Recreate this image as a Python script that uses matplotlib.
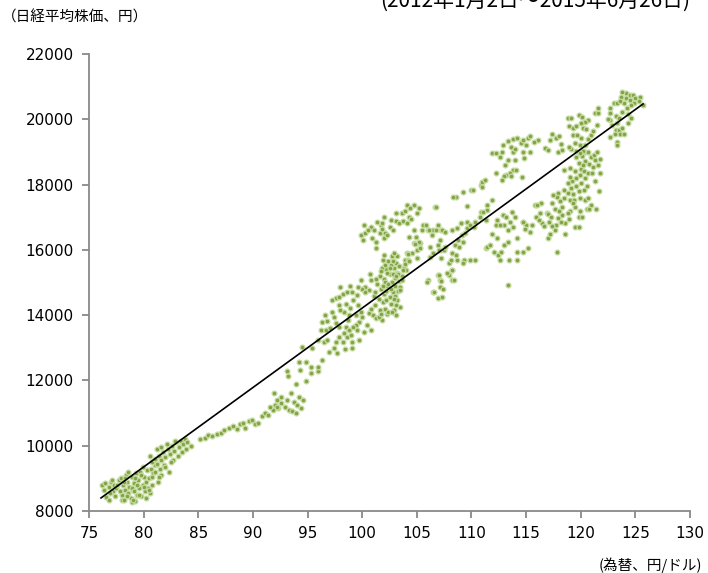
import matplotlib
matplotlib.use("Agg")
import matplotlib.pyplot as plt
import numpy as np

# 為替(円/ドル) vs 日経平均株価(円), values
grp_76_81 = [
    (76.2, 8800), (76.5, 8850), (76.6, 8430), (76.8, 8340), (76.8, 8750), (77.0, 8900),
    (77.2, 8600), (77.4, 8450), (77.5, 8700), (77.7, 8950), (77.9, 9000), (78.0, 8500),
    (78.0, 8340), (78.1, 8800), (78.2, 8350), (78.3, 8650), (78.4, 9100), (78.5, 8900),
    (78.6, 8550), (78.7, 8750), (78.8, 8400), (78.9, 9050), (78.9, 8280), (79.0, 8650),
    (79.1, 8850), (79.2, 8300), (79.3, 9150), (79.4, 8500), (79.5, 8950), (79.6, 8700),
    (79.7, 9200), (79.8, 8450), (79.9, 8800), (80.0, 9050), (80.1, 8600), (80.2, 8900),
    (80.3, 9250), (80.4, 8700), (80.5, 9000), (80.6, 8550), (80.7, 9300), (80.8, 8800),
    (77.8, 8600), (78.6, 9200), (79.2, 9000), (79.9, 9350), (80.2, 8400), (79.0, 8350),
    (78.3, 9000), (77.3, 8800), (76.9, 8550), (79.6, 8500), (80.0, 8750), (78.9, 8700),
    (79.4, 8800), (80.9, 9150), (81.0, 9400), (76.4, 8650), (77.1, 8950), (78.5, 8450),
    (79.8, 9100), (80.5, 8650), (79.1, 8600), (78.2, 8900), (80.8, 9050), (77.6, 8800),
]
grp_81_84 = [
    (80.8, 9500), (81.0, 9600), (81.2, 9450), (81.4, 9700), (81.6, 9550), (81.8, 9800),
    (82.0, 9650), (82.2, 9900), (82.4, 9750), (82.6, 10000), (82.8, 9850), (83.0, 10100),
    (83.2, 9950), (83.4, 10150), (83.6, 10050), (83.8, 10200), (84.0, 10100), (84.3, 10000),
    (81.5, 9300), (81.9, 9400), (82.3, 9200), (82.7, 9550), (83.1, 9700), (83.5, 9800),
    (83.9, 9900), (81.2, 9900), (81.6, 9950), (82.1, 10050), (82.5, 9500), (80.6, 9700),
    (81.0, 9200), (81.3, 8900), (81.6, 9100), (82.0, 9350), (81.4, 9050), (82.9, 10150),
]
grp_85_93 = [
    (85.2, 10200), (85.6, 10250), (85.9, 10330), (86.3, 10300), (86.7, 10350), (87.1, 10400),
    (87.4, 10480), (87.8, 10550), (88.2, 10600), (88.5, 10500), (88.8, 10650), (89.1, 10700),
    (89.3, 10550), (89.6, 10750), (89.9, 10800), (90.2, 10650), (90.5, 10700), (90.8, 10900),
    (91.1, 11000), (91.4, 10950), (91.8, 11100), (92.0, 11250), (92.3, 11150), (92.6, 11300),
    (92.9, 11200), (91.6, 11200), (92.2, 11400), (91.9, 11600), (92.6, 11500), (92.2, 11185),
]
grp_93_96 = [
    (93.3, 11100), (93.5, 11600), (93.6, 11050), (93.8, 11350), (94.0, 11250), (94.2, 11500),
    (94.4, 11150), (94.6, 11400), (93.9, 11900), (94.9, 11980), (94.2, 12560), (94.3, 12320),
    (94.9, 12560), (95.3, 12400), (95.3, 12220), (96.0, 12300), (96.0, 12420), (96.3, 12620),
    (94.5, 13020), (95.4, 13000), (93.1, 12300), (93.2, 12150), (93.1, 11400), (93.9, 11000),
]
grp_96_101 = [
    (96.3, 13790), (96.8, 13820), (96.2, 13540), (96.7, 13540), (97.2, 14100), (97.6, 14520),
    (97.9, 14560), (98.2, 14650), (98.6, 14700), (99.1, 14700), (99.5, 14620), (97.2, 14460),
    (97.9, 14300), (98.5, 14350), (98.9, 14220), (99.2, 14460), (98.3, 14090), (98.8, 14000),
    (99.4, 14000), (99.9, 14090), (100.0, 13940), (100.6, 14060), (100.8, 14200), (99.7, 13780),
    (99.4, 13700), (97.6, 13760), (97.9, 13640), (98.5, 13640), (98.8, 13540), (99.2, 13640),
    (99.5, 13540), (100.2, 13480), (100.8, 13540), (97.9, 13330), (98.2, 13180), (98.6, 13330),
    (99.1, 13180), (99.7, 13240), (97.6, 13180), (97.0, 12870), (97.4, 12990), (97.7, 12840),
    (99.1, 12990), (96.5, 13180), (96.8, 13240), (96.0, 13240), (100.3, 14860), (100.0, 14800),
    (100.6, 14760), (98.0, 14150), (98.7, 13850), (99.6, 14300), (97.4, 13950), (98.3, 13450),
    (99.0, 13400), (100.4, 13700), (97.1, 13600), (98.4, 12950), (96.6, 14000), (99.9, 15075),
    (100.7, 15260), (100.3, 14710), (100.8, 15070), (98.0, 14850), (98.9, 14900), (99.6, 14850),
]
grp_101_104 = [
    (101.0, 14000), (101.2, 14300), (101.3, 13900), (101.5, 14500), (101.6, 14150), (101.7, 14800),
    (101.8, 13850), (101.9, 14400), (102.0, 15100), (102.0, 14650), (102.1, 14200), (102.2, 15400),
    (102.3, 14900), (102.3, 14050), (102.4, 15650), (102.5, 14550), (102.5, 15250), (102.6, 14350),
    (102.7, 15000), (102.7, 15800), (102.8, 14700), (102.9, 15450), (102.9, 14150), (103.0, 15150),
    (103.0, 14900), (103.1, 15600), (103.2, 14450), (103.2, 15300), (103.3, 14750), (103.4, 15050),
    (103.4, 15500), (103.5, 14250), (101.4, 14950), (101.6, 15200), (101.8, 15450), (101.9, 15700),
    (102.1, 15550), (102.2, 14750), (102.4, 14100), (102.6, 15550), (102.8, 15250), (103.0, 14600),
    (103.2, 15800), (103.5, 14850), (101.1, 14600), (101.3, 15100), (101.7, 15350), (102.0, 15850),
    (102.6, 14800), (102.1, 15000), (102.9, 14500), (103.3, 15250), (101.5, 13950), (102.3, 15300),
    (102.7, 14100), (103.6, 15200), (103.1, 14000), (102.4, 14950), (101.9, 14900), (102.8, 15650),
    (103.8, 15440), (103.9, 15690), (103.6, 15075), (103.5, 14770), (104.0, 15380), (103.1, 15200),
    (101.2, 14700), (102.2, 14450), (102.5, 15450), (103.1, 14300), (101.7, 14050), (102.9, 15900),
]
grp_100_105_hi = [
    (99.9, 16450), (100.3, 16510), (100.2, 16760), (100.8, 16700), (101.1, 16600), (101.3, 16240),
    (101.3, 16050), (100.9, 16360), (101.6, 16510), (101.4, 16850), (101.7, 16760), (102.0, 17000),
    (101.8, 16640), (102.1, 16510), (102.0, 16350), (102.3, 16450), (102.5, 16700), (102.6, 16910),
    (103.1, 16880), (103.4, 16820), (103.7, 16880), (104.1, 16830), (103.1, 17130), (103.6, 17130),
    (103.9, 17190), (104.1, 17370), (104.4, 17280), (104.7, 17370), (105.2, 17280), (105.0, 17130),
    (104.3, 17000), (101.8, 16820), (100.5, 16600), (102.8, 16600), (104.5, 16950), (100.1, 16300),
]
grp_104_111 = [
    (104.7, 16610), (105.6, 16760), (106.0, 16600), (106.5, 16600), (106.9, 16760), (107.2, 16600),
    (107.1, 16300), (104.7, 16200), (105.0, 15980), (105.3, 16200), (104.6, 15900), (104.2, 15690),
    (103.9, 15560), (103.7, 15380), (104.1, 15900), (105.0, 15750), (106.2, 16090), (106.5, 15900),
    (106.2, 15780), (106.9, 16150), (107.2, 15980), (107.2, 15760), (107.5, 15980), (107.9, 15600),
    (108.2, 15900), (108.5, 16150), (108.8, 16300), (109.1, 16450), (109.4, 16520), (109.6, 16660),
    (108.7, 16660), (108.2, 16600), (109.0, 16820), (109.6, 16850), (109.9, 16760), (110.2, 16700),
    (110.3, 16850), (109.2, 16240), (108.9, 16090), (108.2, 15380), (107.9, 15230), (108.2, 15080),
    (108.7, 15690), (109.3, 15690), (109.9, 15690), (110.3, 15690), (106.9, 15230), (107.1, 15075),
    (107.1, 14860), (106.5, 14710), (106.9, 14520), (106.0, 15075), (104.3, 16390), (104.9, 16390),
    (105.2, 16240), (105.3, 16060), (104.8, 16180), (104.2, 15870), (104.3, 15660), (105.5, 16610),
    (106.1, 16610), (106.4, 16450), (106.8, 16610), (107.3, 16610), (107.6, 16540), (105.8, 16760),
    (107.6, 16090), (107.0, 16000), (106.7, 17310), (108.6, 17620), (109.2, 17780), (110.0, 17830),
    (109.6, 17340), (108.3, 17620), (110.9, 18000), (111.0, 18080), (110.9, 17160), (111.3, 16900),
    (111.3, 16060), (108.6, 15840), (109.2, 15600), (108.1, 15690), (108.2, 15380), (107.8, 15300),
    (108.4, 15090), (107.0, 15230), (107.2, 15050), (107.4, 14800), (106.6, 14700), (107.3, 14560),
    (105.9, 15010), (110.8, 17000), (111.4, 17370), (111.9, 17520), (111.4, 17220), (106.8, 17310),
]
grp_111_118 = [
    (112.3, 16910), (112.9, 17070), (113.2, 17000), (113.7, 17160), (114.0, 17000), (113.5, 16850),
    (113.0, 16760), (113.3, 16610), (113.8, 16700), (114.7, 16850), (115.0, 16760), (112.2, 16760),
    (112.6, 16760), (112.3, 16360), (111.4, 16090), (111.7, 16150), (112.1, 15930), (112.4, 15840),
    (112.7, 15930), (113.0, 16150), (113.3, 16240), (112.6, 15690), (113.4, 15690), (114.2, 16360),
    (114.2, 15930), (114.2, 15690), (114.7, 15930), (115.2, 16050), (113.3, 14920), (117.0, 16360),
    (117.8, 15930), (115.8, 17370), (116.4, 17430), (116.3, 17130), (116.9, 17130), (116.5, 16820),
    (115.5, 16760), (111.1, 17160), (111.9, 16500), (116.0, 17370), (115.9, 17000), (116.2, 16900),
    (117.0, 17110), (116.6, 16720), (117.2, 16500), (114.7, 16850), (114.9, 16650), (115.4, 16550),
]
grp_111_118_hi = [
    (111.9, 18960), (112.2, 18960), (112.6, 18840), (112.8, 19000), (112.9, 19210), (113.3, 19340),
    (113.6, 19150), (113.8, 18990), (113.3, 18750), (113.8, 19400), (114.2, 19430), (114.5, 19280),
    (114.7, 19000), (114.7, 19370), (115.2, 19430), (115.4, 19500), (115.0, 19220), (115.4, 18990),
    (114.8, 18800), (114.0, 18750), (113.8, 18440), (114.1, 18440), (113.5, 18350), (113.2, 18290),
    (113.0, 18260), (113.6, 18260), (114.6, 18230), (112.8, 18130), (112.2, 18350), (111.2, 18140),
    (111.0, 17920), (110.1, 17830), (116.7, 19120), (117.0, 19060), (117.2, 19370), (117.4, 19550),
    (117.7, 19430), (118.0, 19490), (118.2, 19250), (117.9, 19000), (118.3, 19060), (116.1, 19370),
    (115.7, 19310), (114.0, 19100), (113.1, 18600),
]
grp_117_122 = [
    (120.4, 19000), (120.7, 19000), (120.9, 18840), (121.2, 18920), (121.5, 19000), (121.8, 18770),
    (121.3, 18740), (121.6, 18590), (121.1, 18530), (120.8, 18620), (120.4, 18710), (120.1, 18890),
    (119.8, 18650), (119.6, 18840), (120.0, 18470), (120.3, 18400), (120.7, 18340), (121.0, 18340),
    (121.8, 18340), (119.0, 18500), (119.5, 18400), (119.6, 18190), (119.2, 18100), (118.8, 18050),
    (119.1, 17900), (120.0, 18040), (120.4, 18190), (120.6, 17970), (120.3, 17830), (119.8, 17800),
    (119.3, 17700), (118.8, 17750), (118.5, 17830), (118.5, 17580), (119.0, 17520), (119.4, 17520),
    (119.9, 17580), (120.4, 17520), (120.7, 17580), (120.9, 17370), (120.6, 17250), (119.9, 17190),
    (119.5, 17310), (119.0, 17190), (118.3, 17310), (117.9, 17740), (117.8, 17620), (117.5, 17680),
    (117.4, 17430), (117.6, 17250), (118.0, 17180), (118.3, 17060), (118.8, 17120), (118.9, 16960),
    (118.6, 16820), (118.2, 16840), (117.9, 16970), (117.7, 16760), (117.3, 17000), (117.4, 16720),
    (117.1, 16840), (117.6, 16610), (118.6, 16500), (119.5, 16700), (119.8, 16700), (119.8, 17000),
    (120.8, 17250), (121.4, 17240), (121.7, 17800), (118.5, 18450), (119.0, 18240), (119.9, 18300),
    (120.2, 18600), (121.3, 18100), (119.3, 17450), (120.1, 17000), (118.1, 17500), (119.6, 17950),
]
grp_118_122_hi = [
    (118.8, 20040), (119.1, 20040), (119.8, 20130), (120.1, 20070), (120.7, 19980), (118.9, 19800),
    (119.3, 19730), (119.6, 19800), (120.2, 19730), (120.5, 19700), (120.4, 19910), (119.3, 19520),
    (119.7, 19520), (120.0, 19430), (119.5, 19280), (119.9, 19220), (119.6, 19040), (119.1, 19100),
    (120.2, 19040), (120.4, 19220), (120.7, 19400), (120.9, 19520), (121.5, 19830), (121.3, 20190),
    (121.6, 20190), (121.6, 20340), (118.9, 19160), (119.9, 18960), (121.1, 19650), (120.0, 19900),
]
grp_122_126 = [
    (122.7, 20340), (123.0, 20500), (123.3, 20500), (122.7, 20190), (122.7, 19980), (122.9, 19830),
    (123.2, 20100), (123.3, 19890), (123.2, 19680), (123.5, 19680), (123.8, 19740), (123.6, 19560),
    (124.0, 19560), (123.1, 19560), (122.7, 19460), (123.3, 19310), (123.3, 19200), (123.8, 20220),
    (124.2, 20340), (124.0, 20500), (124.1, 20650), (124.5, 20590), (124.1, 20800), (124.5, 20740),
    (124.8, 20740), (125.0, 20650), (125.4, 20680), (124.9, 20500), (124.6, 20440), (124.3, 20160),
    (124.6, 20040), (125.3, 20550), (125.7, 20440), (123.8, 20830), (123.7, 20680), (123.6, 20560),
    (122.5, 20000), (123.5, 20050), (124.3, 19900),
]

trend_x = [76.1, 125.7]
trend_y = [8400, 20470]

x_ticks = list(range(75, 131, 5))
y_ticks = list(range(8000, 22001, 2000))

groups = [grp_76_81, grp_81_84, grp_85_93, grp_93_96, grp_96_101, grp_101_104,
          grp_100_105_hi, grp_104_111, grp_111_118, grp_111_118_hi, grp_117_122,
          grp_118_122_hi, grp_122_126]
pts = np.array([p for g in groups for p in g])

plt.rcParams['font.family'] = ['Noto Sans CJK JP', 'DejaVu Sans']

fig = plt.figure(figsize=(7.08, 5.73), dpi=100)
ax = fig.add_axes([0.1257, 0.1082, 0.8489, 0.7976])

ax.scatter(pts[:, 0], pts[:, 1], s=12, c='#82a346', edgecolors='#c5dba0', linewidths=0.9, zorder=2)
ax.plot(trend_x, trend_y, color='black', linewidth=1.2, zorder=3)

ax.set_xlim(75, 130)
ax.set_ylim(8000, 22000)
ax.set_xticks(x_ticks)
ax.set_yticks(y_ticks)
ax.set_xticklabels([str(v) for v in x_ticks], family='DejaVu Sans', fontsize=11)
ax.set_yticklabels([str(v) for v in y_ticks], family='DejaVu Sans', fontsize=11)

for side in ('top', 'right'):
    ax.spines[side].set_visible(False)
for side in ('left', 'bottom'):
    ax.spines[side].set_color('#898989')
    ax.spines[side].set_linewidth(1.3)
ax.tick_params(direction='out', length=5, width=1.3, color='#898989', pad=6)

fig.text(0.002, 0.97, '（日経平均株価、円）', fontsize=10.5, ha='left', va='center')
fig.text(0.992, 0.013, '(為替、円/ドル)', fontsize=10.5, ha='right', va='center')
fig.text(0.975, 0.998, '(2012年1月2日～2015年6月26日)', fontsize=15, ha='right', va='center')

fig.savefig('out.png', dpi=100)
